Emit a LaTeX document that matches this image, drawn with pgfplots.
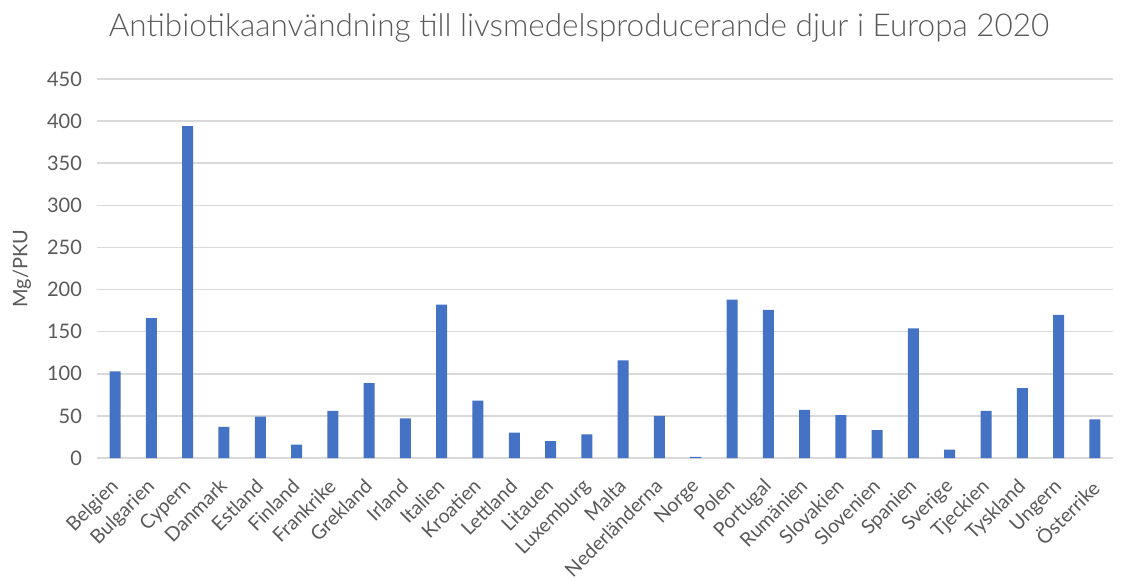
\documentclass[border=0pt]{standalone}
\usepackage{pgfplots}
\pgfplotsset{compat=1.18}
\usepackage{fontspec}
\setmainfont{Lato}
\newfontfamily\titlefont{Lato Light}
\definecolor{barc}{HTML}{4472C4}
\definecolor{txt}{HTML}{595959}
\definecolor{gridc}{HTML}{D9D9D9}
\begin{document}
\begin{tikzpicture}[x=1pt,y=1pt]
\useasboundingbox (-48.5pt,-61pt) rectangle (520pt,229pt);
\begin{axis}[
  at={(0,0)}, anchor=south west,
  scale only axis, width=508pt, height=189.5pt,
  ybar, bar width=5.5pt,
  ymin=0, ymax=450, ytick={0,50,...,450},
  xmin=-0.5, xmax=27.5,
  xtick={0,...,27},
  xticklabels={Belgien,Bulgarien,Cypern,Danmark,Estland,Finland,Frankrike,Grekland,Irland,Italien,Kroatien,Lettland,Litauen,Luxemburg,Malta,Nederländerna,Norge,Polen,Portugal,Rumänien,Slovakien,Slovenien,Spanien,Sverige,Tjeckien,Tyskland,Ungern,Österrike},
  xticklabel style={xshift=-3pt, yshift=-3.8pt, rotate=45, anchor=north east, inner sep=1pt, font=\fontsize{9.8}{12}\selectfont, text=txt},
  yticklabel style={font=\fontsize{10}{12}\selectfont, text=txt, xshift=-4pt},
  /pgf/number format/assume math mode=true,
  xmajorgrids=false, ymajorgrids=true,
  major grid style={draw=gridc, line width=0.75pt},
  axis line style={draw=none}, tick style={draw=none},
  ylabel={Mg/PKU},
  every axis y label/.style={at={(axis description cs:-0.074,0.5)}, rotate=90, anchor=center, font=\fontsize{10}{12}\selectfont, text=txt},
  clip=false,
]
\addplot[fill=barc, draw=none] coordinates {
(0,103) (1,166) (2,394) (3,37) (4,49) (5,16) (6,56) (7,89) (8,47) (9,182)
(10,68) (11,30) (12,20) (13,28) (14,116) (15,50) (16,1.2) (17,188) (18,176) (19,57)
(20,51) (21,33) (22,154) (23,10) (24,56) (25,83) (26,170) (27,46)
};
\end{axis}
\node[text=txt, font=\titlefont\fontsize{15.75}{18}\selectfont] at (241pt,215pt) {Antibiotikaanvändning till livsmedelsproducerande djur i Europa 2020};
\end{tikzpicture}
\end{document}
